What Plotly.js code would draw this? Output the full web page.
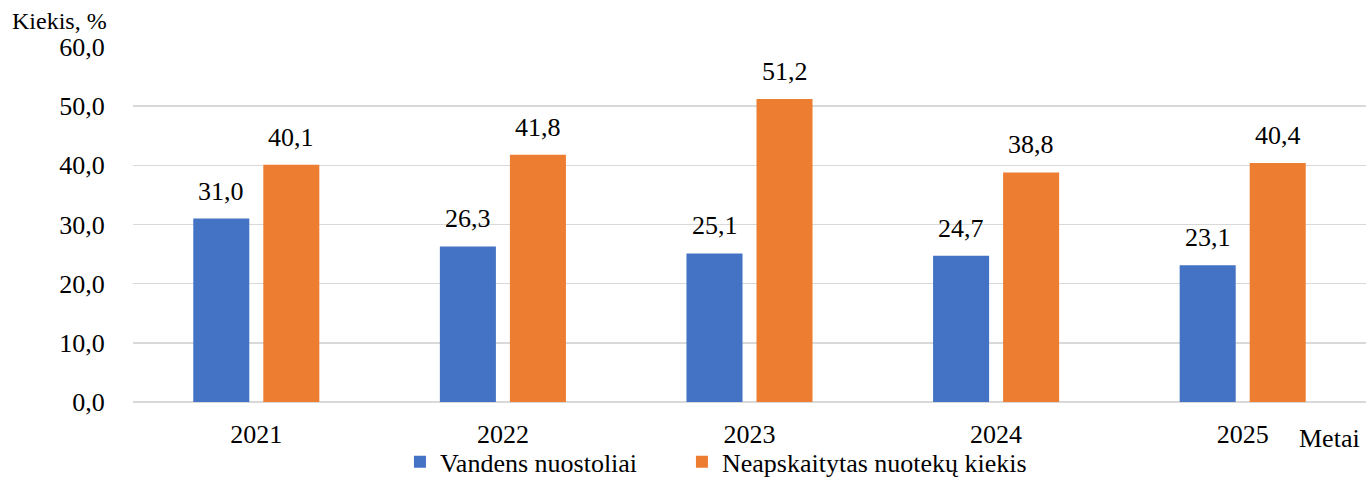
<!DOCTYPE html>
<html>
<head>
<meta charset="utf-8">
<script src="https://cdn.plot.ly/plotly-3.0.1.min.js"></script>
<style>html,body{margin:0;padding:0;background:#fff;}#chart{width:1366px;height:479px;}</style>
</head>
<body>
<div id="chart"></div>
<script>
const years = ['2021', '2022', '2023', '2024', '2025'];
const waterLoss = [31.0, 26.3, 25.1, 24.7, 23.1];
const unmeteredWastewater = [40.1, 41.8, 51.2, 38.8, 40.4];
const seriesNames = ['Vandens nuostoliai', 'Neapskaitytas nuotekų kiekis'];
const yTicks = [0, 10, 20, 30, 40, 50, 60];

const fmt = v => v.toFixed(1).replace('.', ',');
const FONT = 'Liberation Serif';
const mkFont = s => ({family: FONT, size: s, color: '#000'});

const traces = [
  {type: 'bar', x: years, y: waterLoss, name: seriesNames[0], marker: {color: '#4472C4'}, hoverinfo: 'y', legendwidth: 237},
  {type: 'bar', x: years, y: unmeteredWastewater, name: seriesNames[1], marker: {color: '#ED7D31'}, hoverinfo: 'y', legendwidth: 340}
];

const annotations = [];
[waterLoss, unmeteredWastewater].forEach((arr, s) => {
  arr.forEach((v, i) => {
    annotations.push({x: i, y: v, xref: 'x', yref: 'y', text: fmt(v), showarrow: false,
      xshift: s === 0 ? -35 : 35, yanchor: 'bottom', yshift: 11, font: mkFont(26)});
  });
});
annotations.push({xref: 'paper', yref: 'paper', x: -0.1, y: 1.03, xanchor: 'left', yanchor: 'bottom',
  text: 'Kiekis, %', showarrow: false, font: mkFont(24)});
annotations.push({xref: 'paper', yref: 'paper', x: 0.997, y: -0.055, xanchor: 'right', yanchor: 'top',
  text: 'Metai', showarrow: false, font: mkFont(26)});

const layout = {
  width: 1366, height: 479,
  margin: {l: 133, r: 0, t: 47, b: 77},
  paper_bgcolor: '#fff', plot_bgcolor: '#fff',
  font: mkFont(26),
  barmode: 'group', bargap: 0.432, bargroupgap: 0.2,
  showlegend: true,
  legend: {orientation: 'h', x: 0.2165, xanchor: 'left', yref: 'container', y: 0.085, yanchor: 'top',
    bgcolor: 'rgba(0,0,0,0)', font: mkFont(26), itemwidth: 30, tracegroupgap: 0},
  xaxis: {type: 'category', range: [-0.5, 4.5], showgrid: false, zeroline: false, showline: false,
    ticks: 'outside', ticklen: 9, tickcolor: 'rgba(0,0,0,0)', tickfont: mkFont(26)},
  yaxis: {range: [0, 60], tickvals: yTicks, ticktext: yTicks.map(fmt), showgrid: true,
    gridcolor: '#D9D9D9', gridwidth: 1.5, zeroline: true, zerolinecolor: '#D9D9D9', zerolinewidth: 1.5,
    showline: false, ticks: 'outside', ticklen: 22, tickcolor: 'rgba(0,0,0,0)', tickfont: mkFont(26)},
  annotations: annotations
};

Plotly.newPlot('chart', traces, layout, {displayModeBar: false, staticPlot: true});
</script>
</body>
</html>
